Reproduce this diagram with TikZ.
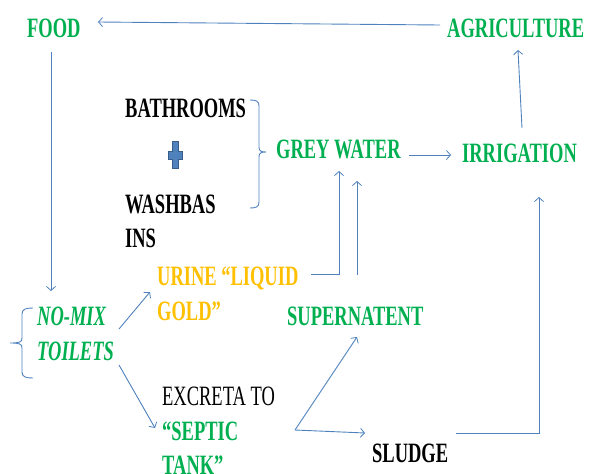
\documentclass[tikz,border=0pt]{standalone}
\usepackage{fontspec}
\setmainfont{Liberation Serif}[FakeStretch=0.66]
\usetikzlibrary{arrows.meta}
\definecolor{tgreen}{HTML}{00B050}
\definecolor{tgold}{HTML}{FFC000}
\definecolor{tblue}{HTML}{4F81BD}
\definecolor{tblued}{HTML}{385D8A}
\tikzset{
  lbl/.style={inner sep=0pt, anchor=base west, font=\fontsize{28}{30}\selectfont\bfseries},
  glbl/.style={lbl, text=tgreen},
  klbl/.style={lbl, text=black},
  conn/.style={draw=tblue, line width=0.9pt},
  arr/.style={conn, -{Straight Barb[length=4pt,width=9pt,line width=0.8pt]}}
}
\begin{document}
\begin{tikzpicture}[x=1pt,y=-1pt]
\useasboundingbox (0,0) rectangle (590,474);
% labels
\node[glbl] (food) at (27,37) {FOOD};
\node[glbl] (agri) at (447,37) {AGRICULTURE};
\node[klbl] (bath) at (125,117) {BATHROOMS};
\node[klbl] (wash) at (125,213) {WASHBAS};
\node[klbl] (ins) at (125,247) {INS};
\node[glbl] (grey) at (276,158) {GREY WATER};
\node[glbl] (irr) at (462,162) {IRRIGATION};
\node[lbl, text=tgold] (urine) at (157,285) {URINE “LIQUID};
\node[lbl, text=tgold] (gold) at (157,320) {GOLD”};
\node[glbl] (super) at (287,325) {SUPERNATENT};
\node[glbl, font=\fontsize{28}{30}\selectfont\bfseries\itshape] (nomix) at (37,325) {NO-MIX};
\node[glbl, font=\fontsize{28}{30}\selectfont\bfseries\itshape] (toilets) at (37,360) {TOILETS};
\node[lbl, font=\fontsize{28}{30}\selectfont, text=black] (excreta) at (162,405) {EXCRETA TO};
\node[glbl] (septic) at (162,440) {“SEPTIC};
\node[glbl] (tank) at (162,474) {TANK”};
\node[klbl] (sludge) at (372,462) {SLUDGE};
% plus sign
\node[inner sep=0pt] (plus) at (175,155) {};
\filldraw[fill=tblue, draw=tblued, line width=0.8pt]
  (172,141) -- (178,141) -- (178,151) -- (182,151) -- (182,159) -- (178,159)
  -- (178,168) -- (172,168) -- (172,159) -- (168,159) -- (168,151) -- (172,151) -- cycle;
% braces
\draw[conn] (250,100) .. controls (256,100) and (259,101) .. (259,106) -- (259,147)
  .. controls (259,151) and (261,152) .. (266,152)
  .. controls (261,152) and (259,153) .. (259,157) -- (259,202)
  .. controls (259,207) and (256,208) .. (250,208);
\draw[conn] (33,308) .. controls (26,308) and (22,309) .. (22,314) -- (22,338)
  .. controls (22,342) and (20,343) .. (10,343)
  .. controls (20,343) and (22,344) .. (22,348) -- (22,372)
  .. controls (22,377) and (26,378) .. (33,378);
% connector endpoints
\coordinate (agriW) at (440,25);
\coordinate (foodE) at (98,22);
\coordinate (foodS) at (51,52);
\coordinate (nomixN) at (51,291);
\coordinate (greyE) at (409,155);
\coordinate (irrW) at (451,155);
\coordinate (irrN) at (522,128);
\coordinate (agriS) at (518,50);
\coordinate (urineE) at (311,274);
\coordinate (greyS1) at (339,171);
\coordinate (superN) at (357,275);
\coordinate (greyS2) at (357,181);
\coordinate (toiletsE1) at (119,329);
\coordinate (urineW) at (150,292);
\coordinate (toiletsE2) at (119,365);
\coordinate (septicW) at (155,428);
\coordinate (septicE) at (295,430);
\coordinate (superS) at (357,337);
\coordinate (sludgeW) at (365,433);
\coordinate (sludgeE) at (456,433);
\coordinate (irrS) at (539,197);
% connectors
\draw[arr] (agriW) -- (foodE);
\draw[arr] (foodS) -- (nomixN);
\draw[arr] (greyE) -- (irrW);
\draw[arr] (irrN) -- (agriS);
\draw[arr] (urineE) -| (greyS1);
\draw[arr] (superN) -- (greyS2);
\draw[arr] (toiletsE1) -- (urineW);
\draw[arr] (toiletsE2) -- (septicW);
\draw[arr] (septicE) -- (superS);
\draw[arr] (septicE) -- (sludgeW);
\draw[arr] (sludgeE) -| (irrS);
\end{tikzpicture}
\end{document}
